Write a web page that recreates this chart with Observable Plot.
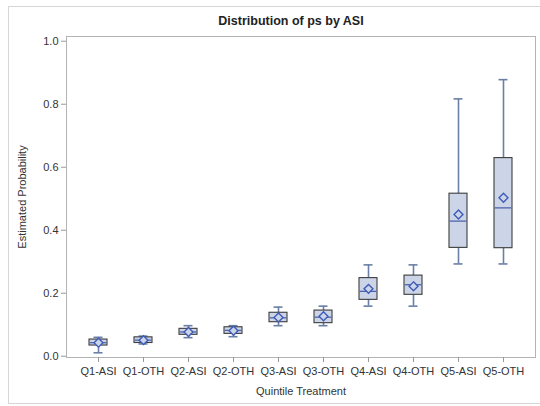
<!DOCTYPE html>
<html>
<head>
<meta charset="utf-8">
<script src="https://cdn.jsdelivr.net/npm/d3@7"></script>
<script src="https://cdn.jsdelivr.net/npm/@observablehq/plot@0.6"></script>
<style>
  html, body { margin: 0; padding: 0; background: #fff; }
  #wrap { position: relative; width: 540px; height: 406px; }
  #border { position: absolute; left: 8px; top: 6px; width: 540px; height: 398px; border: 1px solid #d6d6d6; box-sizing: border-box; pointer-events: none; }
</style>
</head>
<body>
<div id="wrap"><div id="chart"></div><div id="border"></div></div>
<script>
const categories = ["Q1-ASI","Q1-OTH","Q2-ASI","Q2-OTH","Q3-ASI","Q3-OTH","Q4-ASI","Q4-OTH","Q5-ASI","Q5-OTH"];
const whiskerLow  = [0.011, 0.039, 0.059, 0.062, 0.097, 0.097, 0.159, 0.159, 0.293, 0.293];
const q1          = [0.034, 0.042, 0.068, 0.071, 0.108, 0.105, 0.179, 0.195, 0.344, 0.343];
const medians     = [0.043, 0.051, 0.077, 0.082, 0.122, 0.124, 0.206, 0.227, 0.429, 0.471];
const q3          = [0.053, 0.060, 0.087, 0.092, 0.138, 0.145, 0.248, 0.256, 0.516, 0.629];
const whiskerHigh = [0.060, 0.064, 0.097, 0.097, 0.156, 0.159, 0.290, 0.290, 0.817, 0.878];
const means       = [0.043, 0.051, 0.077, 0.081, 0.123, 0.127, 0.214, 0.222, 0.450, 0.503];
const yTicks = [0, 0.2, 0.4, 0.6, 0.8, 1.0];

const data = categories.map((c, i) => ({
  cat: c, lo: whiskerLow[i], q1: q1[i], med: medians[i], q3: q3[i], hi: whiskerHigh[i], mean: means[i]
}));

const font = "'Liberation Sans', Arial, sans-serif";
const whiskerColor = "#6a7fa6";

const chart = Plot.plot({
  width: 540,
  height: 406,
  marginLeft: 66,
  marginRight: 5,
  marginTop: 36,
  marginBottom: 49,
  style: { fontFamily: font, fontSize: "11px", color: "#333", background: "transparent" },
  x: { type: "band", domain: categories, paddingInner: 0.59, paddingOuter: 0.43 },
  y: { domain: [-0.004, 1.015] },
  marks: [
    Plot.frame({ stroke: "#b4b4b4" }),
    Plot.axisY({ ticks: yTicks, tickFormat: d3.format(".1f"), tickSize: 5, tickPadding: 3, stroke: "#999",
      label: "Estimated Probability", labelAnchor: "center", labelArrow: "none", labelOffset: 48, fill: "#333" }),
    Plot.axisX({ tickSize: 5, tickPadding: 5, stroke: "#999",
      label: "Quintile Treatment", labelAnchor: "center", labelArrow: "none", labelOffset: 37, fill: "#333" }),
    Plot.ruleX(data, { x: "cat", y1: "lo", y2: "hi", stroke: whiskerColor, strokeWidth: 1.6 }),
    Plot.tickY(data, { x: "cat", y: "lo", stroke: whiskerColor, strokeWidth: 1.6, insetLeft: 4.5, insetRight: 4.5 }),
    Plot.tickY(data, { x: "cat", y: "hi", stroke: whiskerColor, strokeWidth: 1.6, insetLeft: 4.5, insetRight: 4.5 }),
    Plot.barY(data, { x: "cat", y1: "q1", y2: "q3", fill: "#ccd5e8", stroke: "#3c3c3c", strokeWidth: 1.1 }),
    Plot.tickY(data, { x: "cat", y: "med", stroke: "#4d64ad", strokeWidth: 1.3, insetLeft: 0.6, insetRight: 0.6 }),
    Plot.dot(data, { x: "cat", y: "mean", symbol: "diamond2", r: 4, stroke: "#3f5bb8", strokeWidth: 1.4, fill: "#ccd5e8" }),
    Plot.text(["Distribution of ps by ASI"], { frameAnchor: "top", dx: -10, dy: -20, fontSize: 12.5, fontWeight: "bold", fill: "#222", fontFamily: font })
  ]
});
document.getElementById("chart").appendChild(chart);
</script>
</body>
</html>
